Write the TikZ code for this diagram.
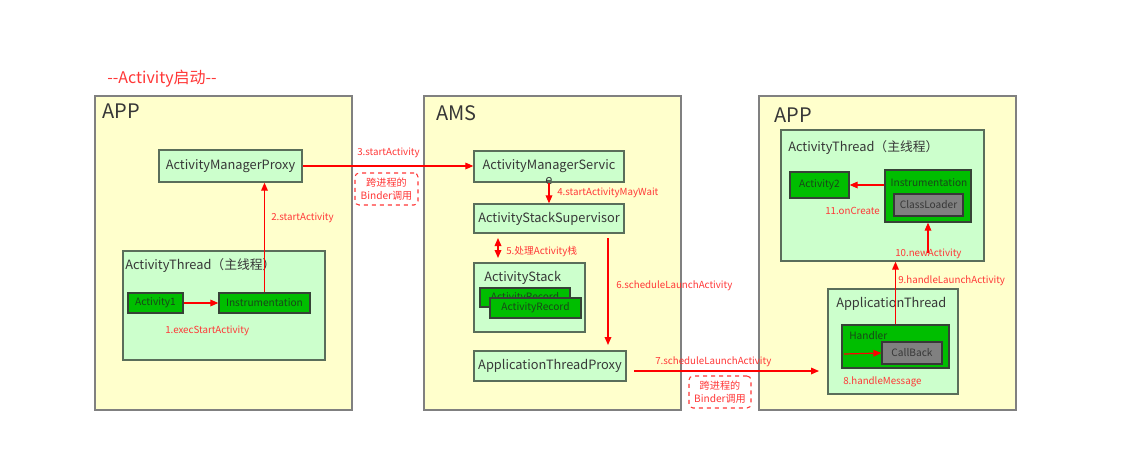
\documentclass[tikz,border=0pt]{standalone}
\usepackage{fontspec}
\setmainfont{Noto Sans CJK SC}
\usetikzlibrary{arrows.meta}
\definecolor{paper}{RGB}{255,255,204}
\definecolor{pale}{RGB}{204,255,204}
\definecolor{leaf}{RGB}{0,190,0}
\definecolor{frame}{RGB}{128,128,128}
\definecolor{edge}{RGB}{90,110,90}
\definecolor{ink}{RGB}{55,55,55}
\definecolor{deepink}{RGB}{25,70,25}
\definecolor{flowred}{RGB}{255,0,0}
\definecolor{notered}{RGB}{255,55,55}
\tikzset{
  sz/.style 2 args={minimum width=#1*0.75pt, minimum height=#2*0.75pt, inner sep=0pt},
  region/.style={draw=frame, fill=paper, line width=1.1pt},
  cls/.style={draw=edge, fill=pale, line width=1pt, text=ink, font=\fontsize{9.6}{11}\selectfont},
  part/.style={draw=edge!60!black, fill=leaf, line width=1pt, text=deepink, font=\fontsize{7.6}{9}\selectfont},
  loader/.style={draw=ink, fill=frame, line width=1pt, text=ink, font=\fontsize{7.6}{9}\selectfont},
  flow/.style={draw=flowred, line width=0.9pt, -{Triangle[length=6pt,width=5pt]}},
  note/.style={text=notered, font=\fontsize{7.3}{9}\selectfont, anchor=west, inner sep=0pt},
  caption/.style={text=ink, anchor=west, inner sep=0pt},
  binder/.style={draw=notered, dashed, rounded corners=3pt, line width=0.8pt, text=notered, align=center, font=\fontsize{7.6}{9.5}\selectfont}
}
\begin{document}
\begin{tikzpicture}[x=0.75pt,y=0.75pt,yscale=-1,xscale=1]
\useasboundingbox[fill=white] (0,0) rectangle (1129,451);

% Title
\node[anchor=west, inner sep=0pt, text=notered, font=\fontsize{12}{14}\selectfont] (title) at (107,79) {-{}-Activity启动-{}-};

% left process: APP
\node[region, sz={257}{314}] (app1) at (223.5,253) {};
\node[caption, font=\fontsize{15}{18}\selectfont] (app1t) at (102,111) {APP};
\node[cls, sz={143}{32}] (amp) at (230.5,166) {ActivityManagerProxy};
\node[cls, sz={202}{109}] (thread1) at (224,305.5) {};
\node[caption, font=\fontsize{9.6}{11}\selectfont] (thread1t) at (125,266) {ActivityThread（主线程）};
\node[part, sz={55}{20}] (act1) at (155.5,303) {Activity1};
\node[part, sz={91}{20}] (instr1) at (264.5,303) {Instrumentation};

% middle process: AMS
\node[region, sz={257}{314}] (ams) at (552.5,253) {};
\node[caption, font=\fontsize{15}{18}\selectfont] (amst) at (436,113) {AMS};
\node[cls, sz={150}{31}] (amserv) at (549,166.5) {ActivityManagerServic};
\node[text=ink, inner sep=0pt, font=\fontsize{9.6}{11}\selectfont] (amserve) at (549,181) {e};
\node[cls, sz={150}{29}] (ass) at (549,218.5) {ActivityStackSupervisor};
\node[cls, sz={111}{69}] (astack) at (529.5,297.5) {};
\node[caption, font=\fontsize{9.6}{11}\selectfont] (astackt) at (484,278) {ActivityStack};
\node[part, sz={90}{19}] (rec1) at (525,297.5) {ActivityRecord};
\node[part, sz={91}{20}] (rec2) at (535.5,308) {ActivityRecord};
\node[cls, sz={152}{30}] (atp) at (550,366) {ApplicationThreadProxy};

% right process: APP
\node[region, sz={257}{314}] (app2) at (887.5,253) {};
\node[caption, font=\fontsize{15}{18}\selectfont] (app2t) at (774,115) {APP};
\node[cls, sz={203}{131}] (thread2) at (882.5,195.5) {};
\node[caption, font=\fontsize{9.6}{11}\selectfont] (thread2t) at (788,148) {ActivityThread（主线程）};
\node[part, sz={59}{26}] (act2) at (819.5,185) {Activity2};
\node[part, sz={86}{52}] (instr2) at (928,196) {};
\node[text=deepink, inner sep=0pt, font=\fontsize{7.6}{9}\selectfont] (instr2t) at (929,183) {Instrumentation};
\node[loader, sz={69}{22}] (cloader) at (928.5,205) {ClassLoader};
\node[cls, sz={130}{105}] (apthread) at (893,341.5) {};
\node[caption, font=\fontsize{9.6}{11}\selectfont] (apthreadt) at (836,304) {ApplicationThread};
\node[part, sz={107}{43}] (handler) at (895.5,346.5) {};
\node[caption, text=deepink, font=\fontsize{7.6}{9}\selectfont] (handlert) at (849,336) {Handler};
\node[loader, sz={60}{22}] (callback) at (912,353) {CallBack};

% binder notes
\node[binder, sz={63}{32}] (bind1) at (386.5,189) {跨进程的\\Binder调用};
\node[binder, sz={62}{32}] (bind2) at (720,392) {跨进程的\\Binder调用};

% free ends
\coordinate (s5a) at (498,238);
\coordinate (s5b) at (498,258);
\coordinate (s6a) at (608,238);
\coordinate (s6b) at (608,345);
\coordinate (s7a) at (634,371);
\coordinate (s7b) at (819,371);
\coordinate (s8) at (844,354);
\coordinate (s10) at (928,253);

% calls
\draw[flow] (act1) -- (instr1);
\draw[flow] (instr1.north) -- (instr1.north |- amp.south);
\draw[flow] (amp.east) -- (amp.east -| amserv.west);
\draw[flow] (amserv.south) -- (ass.north);
\draw[flow, {Triangle[length=6pt,width=5pt]}-{Triangle[length=6pt,width=5pt]}] (s5a) -- (s5b);
\draw[flow] (s6a) -- (s6b);
\draw[flow] (s7a) -- (s7b);
\draw[flow] (s8) -- (callback.west);
\draw[flow] (handler.north) -- (handler.north |- thread2.south);
\draw[flow] (s10) -- (instr2.south);
\draw[flow] (instr2.west |- act2.east) -- (act2.east);

% call labels
\node[note] (l1) at (165,331) {1.execStartActivity};
\node[note] (l2) at (271,218) {2.startActivity};
\node[note] (l3) at (357,153) {3.startActivity};
\node[note] (l4) at (557,193) {4.startActivityMayWait};
\node[note] (l5) at (506,252) {5.处理Activity栈};
\node[note] (l6) at (616,286) {6.scheduleLaunchActivity};
\node[note] (l7) at (655,362) {7.scheduleLaunchActivity};
\node[note] (l8) at (843,382) {8.handleMessage};
\node[note] (l9) at (898,281) {9.handleLaunchActivity};
\node[note] (l10) at (895,254) {10.newActivity};
\node[note] (l11) at (825,211) {11.onCreate};

\end{tikzpicture}
\end{document}
